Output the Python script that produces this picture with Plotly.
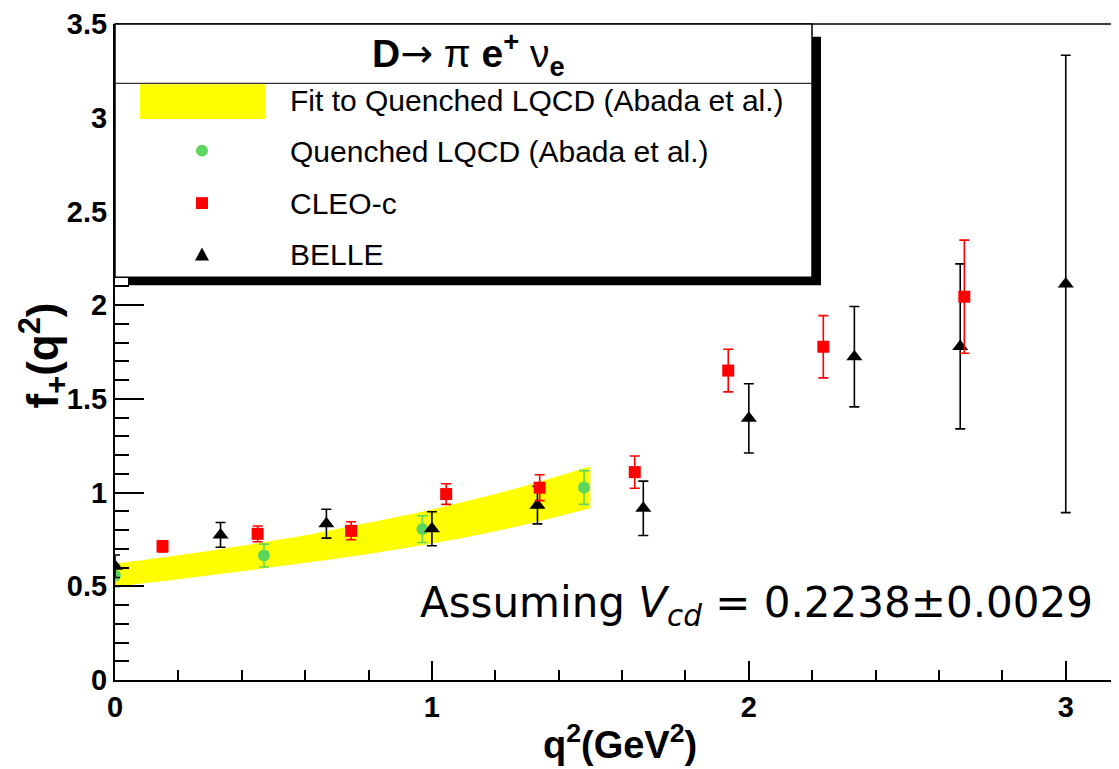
import plotly.graph_objects as go

# ---------------- data ----------------
cleo_q2 = [0.15, 0.45, 0.745, 1.045, 1.34, 1.64, 1.935, 2.235, 2.68]
cleo_f = [0.713, 0.780, 0.796, 0.992, 1.026, 1.109, 1.651, 1.778, 2.045]
cleo_err = [0.03, 0.042, 0.048, 0.055, 0.069, 0.086, 0.114, 0.166, 0.302]

belle_q2 = [0.0, 0.333, 0.667, 1.0, 1.333, 1.667, 2.0, 2.333, 2.667, 3.0]
belle_f = [0.607, 0.774, 0.834, 0.807, 0.933, 0.916, 1.396, 1.725, 1.780, 2.113]
belle_err = [0.06, 0.066, 0.077, 0.091, 0.10, 0.145, 0.185, 0.268, 0.44, 1.22]

lqcd_q2 = [0.0, 0.47, 0.97, 1.48]
lqcd_f = [0.558, 0.664, 0.805, 1.027]
lqcd_err = [0.06, 0.061, 0.071, 0.09]

band_q2 = [0.0, 0.2, 0.4, 0.6, 0.75, 1.0, 1.25, 1.5]
band_hi = [0.620, 0.665, 0.716, 0.772, 0.823, 0.910, 1.015, 1.141]
band_lo = [0.498, 0.537, 0.580, 0.625, 0.660, 0.728, 0.812, 0.916]

legend_labels = ["Fit to Quenched LQCD (Abada et al.)", "Quenched LQCD (Abada et al.)",
                 "CLEO-c", "BELLE"]

# ---------------- layout geometry ----------------
OFF = 8                      # page body margin of the html page
W, H = 1119 - OFF, 769 - OFF
ML, MR, MT, MB = 115 - OFF, 0, 17 - OFF, 89
X_MAX = 3.168
Y_MAX = 3.5
PW, PH = W - ML - MR, H - MT - MB

YELLOW = "#ffff00"
GREEN = "#5cd65c"
RED = "#ff0000"
BLACK = "#000000"
SANS = "Liberation Sans, Arial, sans-serif"


def fx(p):
    """reference-window pixel x -> paper coordinate"""
    return (p - OFF - ML) / PW


def fy(p):
    """reference-window pixel y -> paper coordinate"""
    return 1 - (p - OFF - MT) / PH


fig = go.Figure()

# yellow band
fig.add_trace(go.Scatter(x=band_q2, y=band_lo, mode="lines", line=dict(width=0, shape="spline", color=YELLOW),
                         hoverinfo="skip", showlegend=False))
fig.add_trace(go.Scatter(x=band_q2, y=band_hi, mode="lines", line=dict(width=0, shape="spline", color=YELLOW),
                         fill="tonexty", fillcolor=YELLOW, showlegend=False, name=legend_labels[0]))

# Quenched LQCD points
fig.add_trace(go.Scatter(x=lqcd_q2, y=lqcd_f, mode="markers", name=legend_labels[1],
                         marker=dict(symbol="circle", size=12, color=GREEN),
                         error_y=dict(type="data", array=lqcd_err, color=GREEN, thickness=1.6, width=5),
                         showlegend=False))
# BELLE
fig.add_trace(go.Scatter(x=belle_q2, y=belle_f, mode="markers", name=legend_labels[3],
                         marker=dict(symbol="triangle-up", size=14, color=BLACK),
                         error_y=dict(type="data", array=belle_err, color=BLACK, thickness=1.6, width=5),
                         showlegend=False))
# CLEO-c
fig.add_trace(go.Scatter(x=cleo_q2, y=cleo_f, mode="markers", name=legend_labels[2],
                         marker=dict(symbol="square", size=12, color=RED),
                         error_y=dict(type="data", array=cleo_err, color=RED, thickness=1.6, width=5),
                         showlegend=False))

shapes = []
# top frame line
shapes.append(dict(type="line", xref="paper", yref="paper", x0=0, x1=1, y0=1, y1=1,
                   line=dict(color=BLACK, width=1.5)))
# legend shadow + box
shapes.append(dict(type="rect", xref="paper", yref="paper", x0=fx(128), x1=fx(821), y0=fy(281), y1=fy(30),
                   fillcolor=BLACK, line=dict(width=0)))
shapes.append(dict(type="rect", xref="paper", yref="paper", x0=fx(115), x1=fx(812), y0=fy(273), y1=fy(17),
                   fillcolor="white", line=dict(color=BLACK, width=1.5)))
shapes.append(dict(type="line", xref="paper", yref="paper", x0=fx(115), x1=fx(812), y0=fy(77), y1=fy(77),
                   line=dict(color="#333333", width=1.2)))
# legend symbols
shapes.append(dict(type="rect", xref="paper", yref="paper", x0=fx(140), x1=fx(265), y0=fy(113), y1=fy(78),
                   fillcolor=YELLOW, line=dict(width=0)))
shapes.append(dict(type="circle", xref="paper", yref="paper", x0=fx(196), x1=fx(208), y0=fy(151), y1=fy(139),
                   fillcolor=GREEN, line=dict(width=0)))
shapes.append(dict(type="rect", xref="paper", yref="paper", x0=fx(196), x1=fx(208), y0=fy(204), y1=fy(192),
                   fillcolor=RED, line=dict(width=0)))
tri = "M %f,%f L %f,%f L %f,%f Z" % (fx(195), fy(256), fx(209), fy(256), fx(202), fy(243))
shapes.append(dict(type="path", xref="paper", yref="paper", path=tri, fillcolor=BLACK, line=dict(width=0)))

annotations = []
# legend header
annotations.append(dict(xref="paper", yref="paper", x=fx(468), y=fy(47), xanchor="center", yanchor="middle",
                        showarrow=False,
                        text="<b>D</b><span style='font-family:DejaVu Sans'>→</span> π <b>e<sup>+</sup></b> "
                             "ν<sub><b>e</b></sub>",
                        font=dict(family=SANS, size=39, color=BLACK)))
for lab, ypix in zip(legend_labels, [94, 146, 198, 250]):
    annotations.append(dict(xref="paper", yref="paper", x=fx(288), y=fy(ypix), xanchor="left", yanchor="middle",
                            showarrow=False, text=lab, font=dict(family=SANS, size=30, color=BLACK)))
# Vcd note
annotations.append(dict(xref="paper", yref="paper", x=fx(418), y=fy(605), xanchor="left", yanchor="middle",
                        showarrow=False,
                        text="Assuming <i>V<sub>cd</sub></i> = 0.2238±0.0029",
                        font=dict(family="DejaVu Sans, sans-serif", size=42, color=BLACK)))
# axis titles
annotations.append(dict(xref="paper", yref="paper", x=fx(620), y=fy(743), xanchor="center", yanchor="middle",
                        showarrow=False, text="<b>q<sup>2</sup>(GeV<sup>2</sup>)</b>",
                        font=dict(family=SANS, size=38, color=BLACK)))
annotations.append(dict(xref="paper", yref="paper", x=fx(43), y=fy(352), xanchor="center", yanchor="middle",
                        showarrow=False, textangle=-90, text="<b>f<sub>+</sub>(q<sup>2</sup>)</b>",
                        font=dict(family=SANS, size=44, color=BLACK)))

fig.update_layout(
    width=W, height=H,
    margin=dict(l=ML, r=MR, t=MT, b=MB, pad=0),
    paper_bgcolor="white", plot_bgcolor="white",
    showlegend=False,
    shapes=shapes,
    annotations=annotations,
    xaxis=dict(range=[0, X_MAX], tick0=0, dtick=1, showgrid=False, zeroline=False,
               showline=True, linecolor=BLACK, linewidth=2,
               ticks="inside", ticklen=19, tickwidth=1.5, tickcolor=BLACK,
               minor=dict(dtick=0.2, ticks="inside", ticklen=10, tickwidth=1.5, tickcolor=BLACK),
               tickfont=dict(family=SANS, size=29, color=BLACK, weight="bold")),
    yaxis=dict(range=[0, Y_MAX], tick0=0, dtick=0.5, showgrid=False, zeroline=False,
               showline=True, linecolor=BLACK, linewidth=2,
               ticks="inside", ticklen=29, tickwidth=1.5, tickcolor=BLACK,
               ticklabeloverflow="allow",
               minor=dict(dtick=0.1, ticks="inside", ticklen=14, tickwidth=1.5, tickcolor=BLACK),
               tickfont=dict(family=SANS, size=29, color=BLACK, weight="bold")),
)

fig.write_html("out.html")
